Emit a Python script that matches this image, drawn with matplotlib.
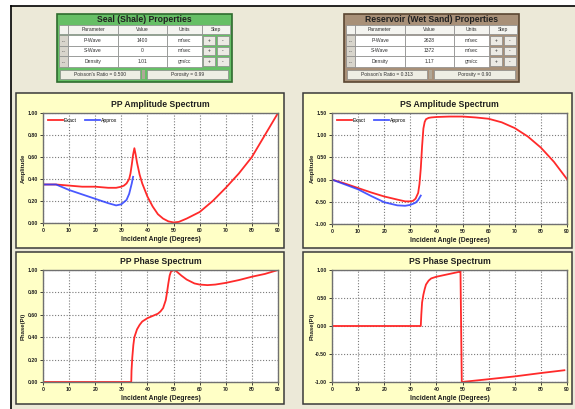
import matplotlib
matplotlib.use("Agg")
import matplotlib.pyplot as plt
from matplotlib.patches import Rectangle

plt.rcParams['font.family'] = ['Liberation Sans', 'DejaVu Sans']

# ---- data ----
pp_amp_exact_angle = [0, 5, 10, 15, 20, 25, 28, 30, 31, 32, 33, 33.5, 34, 34.5, 35, 35.5,
                      36, 37, 38, 40, 42, 44, 46, 48, 50, 52, 55, 60, 65, 70, 75, 80, 85, 90]
pp_amp_exact = [0.35, 0.35, 0.34, 0.33, 0.33, 0.32, 0.32, 0.33, 0.34, 0.36, 0.40, 0.45, 0.53,
                0.62, 0.68, 0.62, 0.55, 0.44, 0.36, 0.24, 0.15, 0.08, 0.04, 0.015, 0.005, 0.01,
                0.04, 0.10, 0.20, 0.32, 0.45, 0.60, 0.80, 1.00]
pp_amp_approx_angle = [0, 5, 10, 15, 20, 25, 28, 30, 31, 32, 33, 34, 34.5]
pp_amp_approx = [0.35, 0.35, 0.30, 0.26, 0.22, 0.18, 0.16, 0.17, 0.19, 0.21, 0.265, 0.36, 0.42]

ps_amp_exact_angle = [0, 5, 10, 15, 20, 25, 28, 30, 31, 32, 33, 33.5, 34, 34.5, 35, 35.5, 36,
                      37, 38, 40, 45, 50, 55, 60, 65, 70, 75, 80, 85, 90]
ps_amp_exact = [0.0, -0.09, -0.19, -0.29, -0.38, -0.45, -0.49, -0.49, -0.48, -0.43, -0.30,
                -0.10, 0.25, 0.75, 1.15, 1.30, 1.36, 1.39, 1.40, 1.41, 1.42, 1.42, 1.40, 1.37,
                1.29, 1.16, 0.97, 0.72, 0.40, 0.01]
ps_amp_approx_angle = [0, 5, 10, 15, 20, 25, 28, 30, 32, 33, 34]
ps_amp_approx = [0.0, -0.11, -0.22, -0.37, -0.51, -0.58, -0.59, -0.57, -0.52, -0.46, -0.36]

pp_phase_angle = [0, 33.8, 33.9, 34.2, 34.6, 35, 36, 37, 38, 40, 42, 44, 45, 46, 47, 47.5, 48,
                  48.5, 49, 50, 51, 53, 55, 58, 60, 63, 66, 70, 75, 80, 85, 90]
pp_phase = [0, 0, 0.1, 0.22, 0.33, 0.40, 0.47, 0.51, 0.54, 0.57, 0.59, 0.61, 0.63, 0.66, 0.73,
            0.80, 0.88, 0.95, 0.985, 1.0, 0.99, 0.95, 0.915, 0.88, 0.87, 0.865, 0.87, 0.885,
            0.91, 0.94, 0.965, 1.0]

ps_phase_angle = [0, 34, 34.2, 34.5, 35, 35.5, 36, 37, 38, 40, 42, 45, 49, 49.2, 49.7, 60, 70, 80, 89]
ps_phase = [0, 0, 0.2, 0.42, 0.56, 0.66, 0.74, 0.81, 0.85, 0.88, 0.90, 0.93, 0.97, 0.99,
            -1.0, -0.95, -0.90, -0.84, -0.79]

x_ticks = [0, 10, 20, 30, 40, 50, 60, 70, 80, 90]
pp_amp_ticks = [0.0, 0.2, 0.4, 0.6, 0.8, 1.0]
ps_amp_ticks = [-1.0, -0.5, 0.0, 0.5, 1.0, 1.5]
pp_phase_ticks = [0.0, 0.2, 0.4, 0.6, 0.8, 1.0]
ps_phase_ticks = [-1.0, -0.5, 0.0, 0.5, 1.0]

seal_rows = [("P-Wave", "1400", "m/sec"), ("S-Wave", "0", "m/sec"), ("Density", "1.01", "gm/cc")]
seal_poisson = "Poisson's Ratio = 0.500"
seal_porosity = "Porosity = 0.99"
res_rows = [("P-Wave", "2628", "m/sec"), ("S-Wave", "1372", "m/sec"), ("Density", "1.17", "gm/cc")]
res_poisson = "Poisson's Ratio = 0.313"
res_porosity = "Porosity = 0.90"

W, H = 575, 409
RED = '#FF2A2A'
BLUE = '#2A3CFF'
BEIGE = '#ECE9D8'
PANEL = '#FFFFC6'

fig = plt.figure(figsize=(W / 100, H / 100), dpi=100, facecolor='white')

# background layer in pixel coordinates
bg = fig.add_axes([0, 0, 1, 1])
bg.set_xlim(0, W)
bg.set_ylim(H, 0)
bg.axis('off')

bg.add_patch(Rectangle((11, 6), W - 11, H - 6, facecolor=BEIGE, edgecolor='none'))
bg.plot([11, W], [6, 6], color='black', lw=1.2)
bg.plot([11, 11], [6, H], color='black', lw=1.2)

# yellow panels
for (x0, y0, x1, y1) in [(16, 93, 284, 248), (303, 93, 572, 248),
                         (16, 252, 284, 404), (303, 252, 572, 404)]:
    bg.add_patch(Rectangle((x0, y0), x1 - x0, y1 - y0, facecolor=PANEL,
                           edgecolor='#3a3a3a', lw=1.1))


def draw_table(x0, y0, title, fill, edge, rows, poisson, porosity):
    w, h = 175, 68
    bg.add_patch(Rectangle((x0, y0), w, h, facecolor=fill, edgecolor=edge, lw=1.2))
    bg.text(x0 + w / 2, y0 + 6, title, ha='center', va='center', fontsize=6.2,
            fontweight='bold', color='#202020')
    cols = [(2, 11), (11, 61), (61, 110), (110, 145), (145, 173)]
    heads = ["", "Parameter", "Value", "Units", "Step"]
    row_y = [(11, 20), (21, 32), (32, 42), (42, 53)]
    for ri, (ya, yb) in enumerate(row_y):
        for ci, (xa, xb) in enumerate(cols):
            if ri == 0:
                fc = '#F4F4F0'
            elif ci == 0 or ci == 4:
                fc = '#D8D5CC'
            else:
                fc = 'white'
            if ci == 4 and ri > 0:
                # two step buttons
                for k, (ba, bb) in enumerate([(146, 158), (160, 172)]):
                    bg.add_patch(Rectangle((x0 + ba, y0 + ya + 1), bb - ba, yb - ya - 2,
                                           facecolor='#ECEAE4', edgecolor='#8a8a8a', lw=0.5))
                    bg.text(x0 + (ba + bb) / 2, y0 + (ya + yb) / 2, "+" if k == 0 else "-",
                            ha='center', va='center', fontsize=3.5, color='#303030')
                continue
            bg.add_patch(Rectangle((x0 + xa, y0 + ya), xb - xa, yb - ya, facecolor=fc,
                                   edgecolor='#8a8a8a', lw=0.5))
            if ri == 0:
                txt = heads[ci]
            elif ci == 0:
                txt = "..."
            else:
                txt = rows[ri - 1][ci - 1]
            if txt:
                bg.text(x0 + (xa + xb) / 2, y0 + (ya + yb) / 2, txt, ha='center',
                        va='center', fontsize=3.6, color='#303030')
    bg.add_patch(Rectangle((x0 + 3, y0 + 56), 80, 9, facecolor='#EEEEE4',
                           edgecolor='#8a8a8a', lw=0.5))
    bg.text(x0 + 43, y0 + 60.5, poisson, ha='center', va='center', fontsize=3.5,
            color='#303030')
    bg.add_patch(Rectangle((x0 + 85, y0 + 56), 3, 9, facecolor='#B0A898',
                           edgecolor='none'))
    bg.add_patch(Rectangle((x0 + 90, y0 + 56), 81, 9, facecolor='#EEEEE4',
                           edgecolor='#8a8a8a', lw=0.5))
    bg.text(x0 + 130.5, y0 + 60.5, porosity, ha='center', va='center', fontsize=3.5,
            color='#303030')


draw_table(57, 14, "Seal (Shale) Properties", '#66BF66', '#2E6B2E',
           seal_rows, seal_poisson, seal_porosity)
draw_table(344, 14, "Reservoir (Wet Sand) Properties", '#A89078', '#5A4632',
           res_rows, res_poisson, res_porosity)


def make_axes(l, t, r, b):
    return fig.add_axes([l / W, 1 - b / H, (r - l) / W, (b - t) / H])


def style(ax, title, ylabel, yticks, ylim):
    ax.set_facecolor('white')
    ax.set_xlim(0, 90)
    ax.set_ylim(*ylim)
    ax.set_xticks(x_ticks)
    ax.set_xticklabels([str(v) for v in x_ticks])
    ax.set_yticks(yticks)
    ax.set_yticklabels(["%.2f" % v for v in yticks])
    ax.grid(True, color='#7a7a7a', linestyle=(0, (1, 1.6)), lw=0.8)
    ax.set_axisbelow(True)
    for s in ax.spines.values():
        s.set_color('#707070')
        s.set_linewidth(1.0)
    ax.tick_params(direction='out', length=2, width=0.6, pad=1.5, colors='#202020',
                   labelsize=3.7)
    for lab in ax.get_xticklabels() + ax.get_yticklabels():
        lab.set_fontweight('bold')
    ax.set_title(title, fontsize=6.2, fontweight='bold', pad=4, color='#202020')
    ax.set_xlabel("Incident Angle (Degrees)", fontsize=4.9, fontweight='bold',
                  labelpad=2, color='#202020')
    ax.set_ylabel(ylabel, fontsize=4.3, fontweight='bold', color='#202020')
    ax.yaxis.set_label_coords(-0.075, 0.5)


ax1 = make_axes(43, 113, 278, 223)
ax1.plot(pp_amp_exact_angle, pp_amp_exact, color=RED, lw=1.3, label='Exact')
ax1.plot(pp_amp_approx_angle, pp_amp_approx, color=BLUE, lw=1.3, label='Approx', alpha=0.85)
style(ax1, "PP Amplitude Spectrum", "Amplitude", pp_amp_ticks, (0, 1))
ax1.legend(loc='upper left', ncol=2, frameon=False, fontsize=3.7, handlelength=3,
           columnspacing=1.5, borderaxespad=0.5, handletextpad=0.2)

ax2 = make_axes(332, 113, 567, 224)
ax2.plot(ps_amp_exact_angle, ps_amp_exact, color=RED, lw=1.3, label='Exact')
ax2.plot(ps_amp_approx_angle, ps_amp_approx, color=BLUE, lw=1.3, label='Approx', alpha=0.85)
style(ax2, "PS Amplitude Spectrum", "Amplitude", ps_amp_ticks, (-1, 1.5))
ax2.legend(loc='upper left', ncol=2, frameon=False, fontsize=3.7, handlelength=3,
           columnspacing=1.5, borderaxespad=0.5, handletextpad=0.2)

ax3 = make_axes(43, 270, 278, 382)
ax3.plot(pp_phase_angle, pp_phase, color=RED, lw=1.3)
style(ax3, "PP Phase Spectrum", "Phase(Pi)", pp_phase_ticks, (0, 1))

ax4 = make_axes(332, 270, 567, 382)
ax4.plot(ps_phase_angle, ps_phase, color=RED, lw=1.3)
style(ax4, "PS Phase Spectrum", "Phase(Pi)", ps_phase_ticks, (-1, 1))

fig.savefig("out.png", dpi=100, facecolor=fig.get_facecolor())
